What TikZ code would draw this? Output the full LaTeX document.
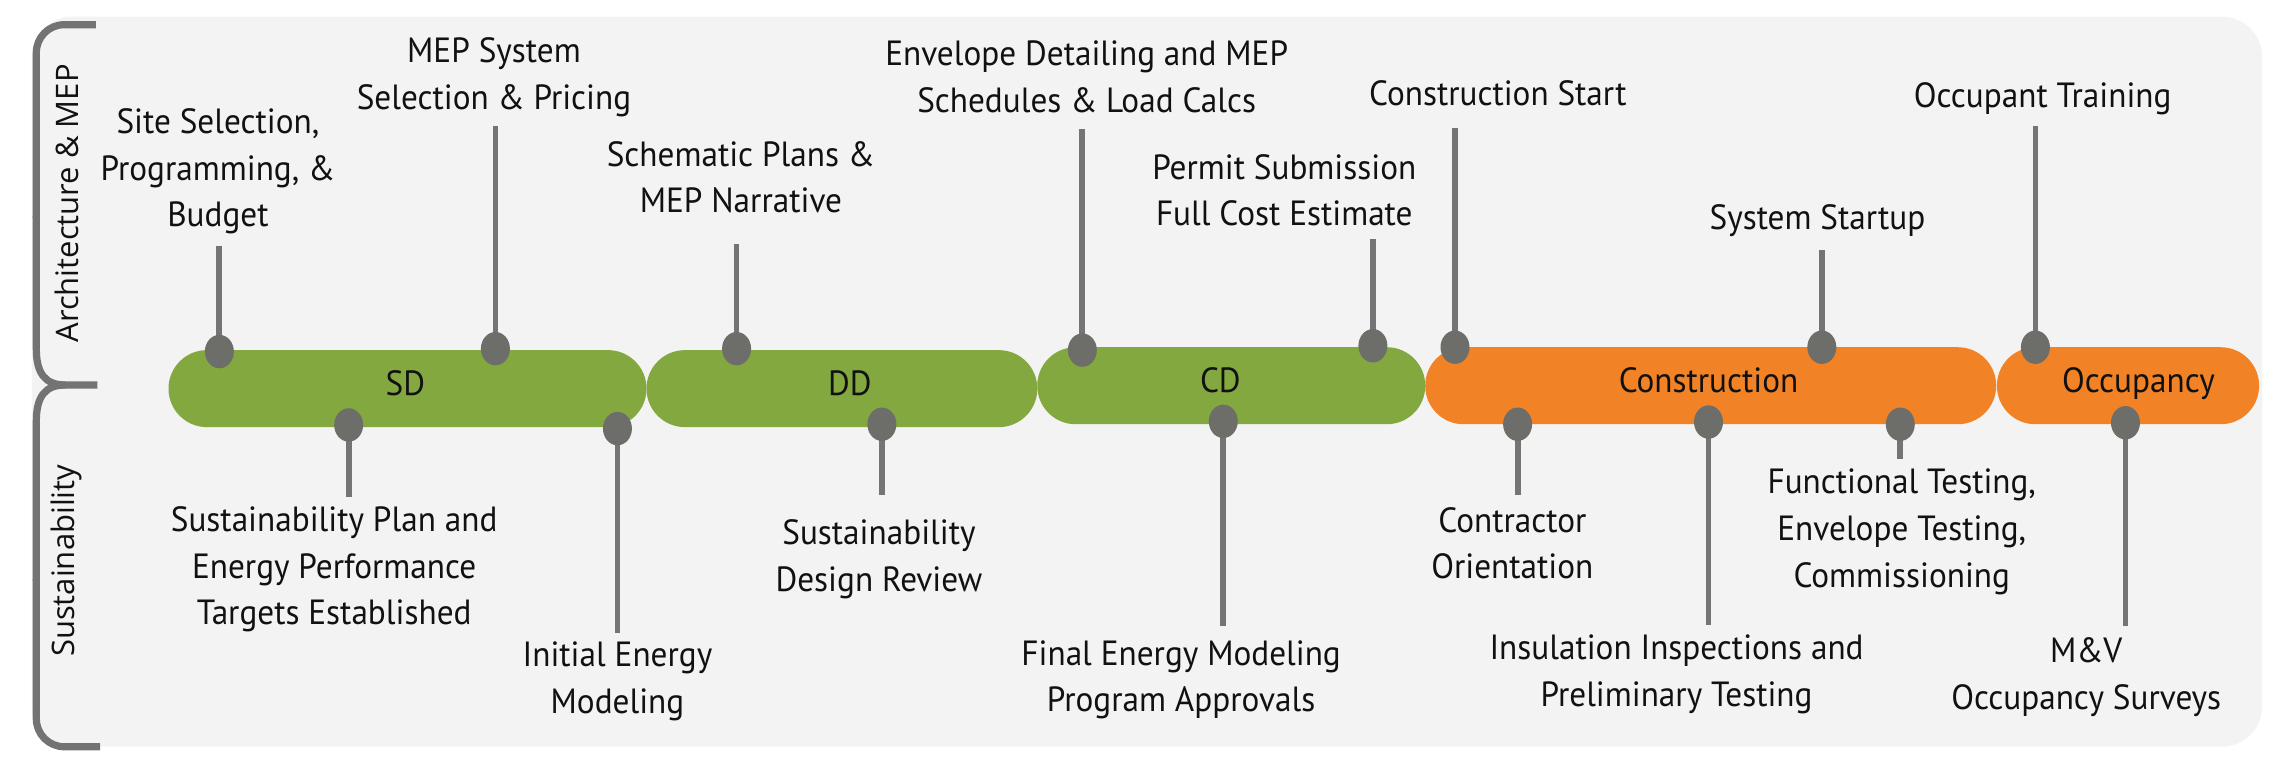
\documentclass[tikz,border=0pt]{standalone}
\usepackage{fontspec}
\setmainfont{PT Sans}
\newfontfamily\lblfont[FakeStretch=0.95]{PT Sans}
\newfontfamily\sidefont{Open Sans}
\usetikzlibrary{shapes.geometric}
\definecolor{bgc}{HTML}{F3F3F3}
\definecolor{greenc}{HTML}{84A840}
\definecolor{orangec}{HTML}{F28226}
\definecolor{dotc}{HTML}{6D6E69}
\definecolor{linec}{HTML}{747474}
\definecolor{brc}{HTML}{737373}
\definecolor{txt}{HTML}{111111}
\tikzset{
  lbl/.style={font=\lblfont\fontsize{17.5}{23.3}\selectfont, align=center, text=txt, inner sep=0pt},
  ptxt/.style={font=\lblfont\fontsize{17.5}{23.3}\selectfont, text=txt, inner sep=0pt, anchor=base},
  pill/.style={rectangle, rounded corners=19.2pt, minimum height=38.5pt, inner sep=0pt, draw=none},
  dot/.style={ellipse, fill=dotc, minimum width=14.5pt, minimum height=16.7pt, inner sep=0pt},
  pinline/.style={draw=linec, line width=2.9pt},
  bracket/.style={draw=brc, line width=3.6pt},
  side/.style={font=\sidefont\fontsize{15.5}{18}\selectfont, text=txt, rotate=90, inner sep=0pt}
}
\begin{document}
\begin{tikzpicture}[x=0.7264pt,y=-0.7264pt]
\useasboundingbox (0,0) rectangle (1568,525);
% background
\fill[bgc, rounded corners=20pt] (22,11.5) rectangle (1557,514);
% brackets
\draw[bracket, rounded corners=14pt] (66,17) -- (25,17) -- (25,150);
\draw[bracket] (25,149) -- (25,240) .. controls (25,257) and (31,265) .. (45,265) -- (67,265);
\draw[bracket] (45,265) .. controls (31,265) and (25,273) .. (25,290) -- (25,400);
\draw[bracket, rounded corners=14pt] (25,399) -- (25,514) -- (69,514);
\node[side] (arch) at (46,140) {Architecture \& MEP};
\node[side] (sust) at (46,386) {Sustainability};
% pills
\node[pill, fill=greenc, minimum width=239pt] (sd) at (280.5,267.5) {};
\node[pill, fill=greenc, minimum width=195.4pt] (dd) at (579.5,267.5) {};
\node[pill, fill=greenc, minimum width=194pt] (cd) at (847.5,265.5) {};
\node[pill, fill=orangec, minimum width=285.5pt] (con) at (1177.5,265.5) {};
\node[pill, fill=orangec, minimum width=131.1pt] (occ) at (1464.75,265.5) {};
\node[ptxt] (sdt) at (279,272) {SD};
\node[ptxt] (ddt) at (585,272) {DD};
\node[ptxt] (cdt) at (840,270.5) {CD};
\node[ptxt] (cont) at (1176,270.5) {Construction};
\node[ptxt] (occt) at (1472,270.5) {Occupancy};
% top pins
\coordinate (tp1) at (151,242);   \coordinate (te1) at (151,169);
\coordinate (tp2) at (341,240);   \coordinate (te2) at (341,87);
\coordinate (tp3) at (507,240);   \coordinate (te3) at (507,168);
\coordinate (tp4) at (745,241);   \coordinate (te4) at (745,89);
\coordinate (tp5) at (945,238);   \coordinate (te5) at (945,164.5);
\coordinate (tp6) at (1001.5,239); \coordinate (te6) at (1001.5,88);
\coordinate (tp7) at (1254,239);  \coordinate (te7) at (1254,172);
\coordinate (tp8) at (1401,239);  \coordinate (te8) at (1401,87);
% bottom pins
\coordinate (bp1) at (240,292.5);  \coordinate (be1) at (240,342);
\coordinate (bp2) at (425,295);    \coordinate (be2) at (425,436);
\coordinate (bp3) at (607,292);    \coordinate (be3) at (607,341);
\coordinate (bp4) at (842,290);    \coordinate (be4) at (842,431);
\coordinate (bp5) at (1044.6,292); \coordinate (be5) at (1044.6,341);
\coordinate (bp6) at (1176,290.5); \coordinate (be6) at (1176,430);
\coordinate (bp7) at (1308,292);   \coordinate (be7) at (1308,316);
\coordinate (bp8) at (1463,291);   \coordinate (be8) at (1463,431);
\foreach \i in {1,...,8}{
  \draw[pinline] (tp\i) -- (te\i);
  \draw[pinline] (bp\i) -- (be\i);
  \node[dot] (td\i) at (tp\i) {};
  \node[dot] (bd\i) at (bp\i) {};
}
% top labels
\node[lbl] (t1) at (150,118) {Site Selection,\\Programming, \&\\Budget};
\node[lbl] (t2) at (340,53) {MEP System\\Selection \& Pricing};
\node[lbl] (t3) at (510,122) {Schematic Plans \&\\MEP Narrative};
\node[lbl] (t4) at (748,53) {Envelope Detailing and MEP\\Schedules \& Load Calcs};
\node[lbl] (t5) at (884,131) {Permit Submission\\Full Cost Estimate};
\node[lbl] (t6) at (1031,64) {Construction Start};
\node[lbl] (t7) at (1251,152) {System Startup};
\node[lbl] (t8) at (1406,68) {Occupant Training};
% bottom labels
\node[lbl] (b1) at (230,392) {Sustainability Plan and\\Energy Performance\\Targets Established};
\node[lbl] (b2) at (425,469) {Initial Energy\\Modeling};
\node[lbl] (b3) at (605,385) {Sustainability\\Design Review};
\node[lbl] (b4) at (813,468) {Final Energy Modeling\\Program Approvals};
\node[lbl] (b5) at (1041,374) {Contractor\\Orientation};
\node[lbl] (b6) at (1154,464) {Insulation Inspections and\\Preliminary Testing};
\node[lbl] (b7) at (1309,366) {Functional Testing,\\Envelope Testing,\\Commissioning};
\node[lbl] (b8) at (1436,466) {M\&V\\Occupancy Surveys};
\end{tikzpicture}
\end{document}
